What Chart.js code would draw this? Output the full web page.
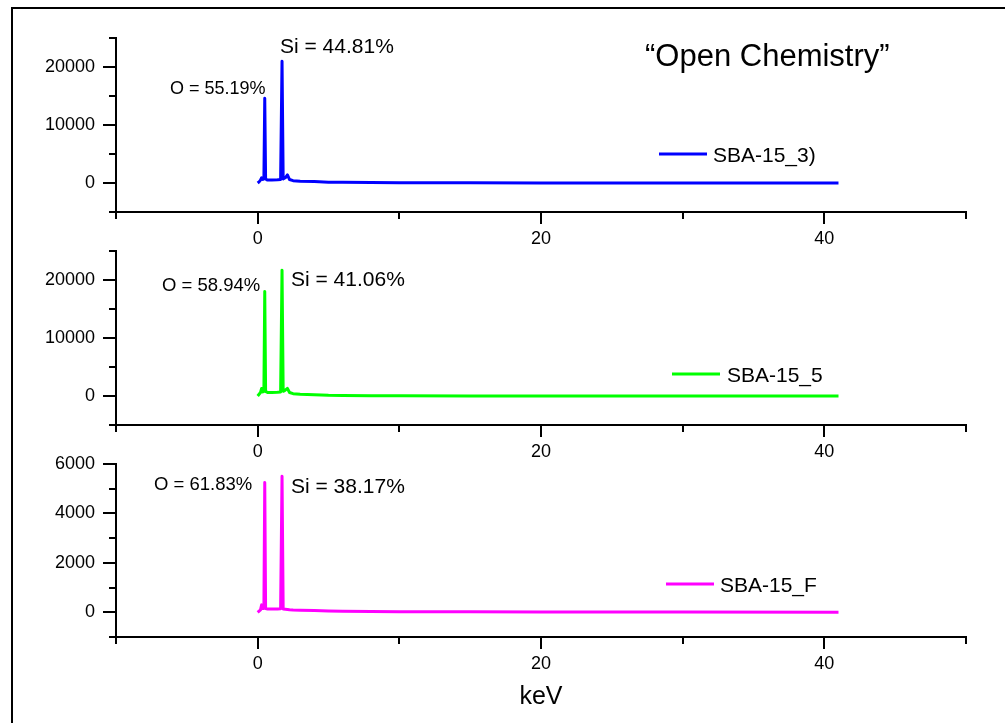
<!DOCTYPE html>
<html>
<head>
<meta charset="utf-8">
<title>EDS spectra SBA-15</title>
<script src="https://cdn.jsdelivr.net/npm/chart.js@4.4.0/dist/chart.umd.min.js"></script>
<style>
  body { margin: 0; background: #fff; }
  #wrap { position: relative; width: 1005px; height: 723px; overflow: hidden; }
  #frame { position: absolute; left: 11px; top: 7px; right: -10px; bottom: -10px;
           border-left: 2px solid #000; border-top: 2px solid #000; }
  canvas { position: absolute; left: 0; top: 0; }
</style>
</head>
<body>
<div id="wrap">
  <div id="frame"></div>
  <canvas id="c1" width="1005" height="723"></canvas>
  <canvas id="c2" width="1005" height="723"></canvas>
  <canvas id="c3" width="1005" height="723"></canvas>
</div>
<script>
// energy axis (keV) and counts
const energy     = [0, 0.1, 0.2, 0.28, 0.36, 0.44, 0.5, 0.56, 0.7, 1.0, 1.4, 1.62, 1.72, 1.8, 1.95, 2.1, 2.25, 2.5, 3.0, 4.0, 5.0, 6.0, 8.0, 10, 15, 20, 30, 41];
const countsSBA3 = [0, 200, 500, 900, 600, 700, 14600, 700, 500, 500, 550, 600, 21000, 700, 900, 1400, 600, 400, 300, 250, 150, 120, 80, 50, 30, 20, 10, 0];
const countsSBA5 = [0, 300, 600, 1300, 700, 800, 18000, 800, 600, 600, 650, 700, 21700, 800, 1000, 1300, 600, 400, 300, 200, 120, 100, 60, 40, 20, 10, 0, 0];
const countsSBAF = [0, 50, 100, 300, 150, 150, 5250, 150, 130, 130, 130, 140, 5500, 130, 120, 110, 100, 90, 80, 70, 50, 40, 30, 20, 20, 10, 10, 0];

const seriesNames = ['SBA-15_3)', 'SBA-15_5', 'SBA-15_F'];
const oLabels  = ['O = 55.19%', 'O = 58.94%', 'O = 61.83%'];
const siLabels = ['Si = 44.81%', 'Si = 41.06%', 'Si = 38.17%'];
const xMajorLabels = [0, 20, 40];
const yMajorTop    = [0, 10000, 20000];
const yMajorBottom = [0, 2000, 4000, 6000];

const FONT = "'Liberation Sans', Arial, sans-serif";

const panels = [
  { id: 'c1', counts: countsSBA3, color: '#0000ff', top: 38, bottom: 212,
    yMin: -5000, yMax: 25000, yStep: 5000, yMajor: yMajorTop,
    legend: { x1: 659, x2: 707, y: 154, tx: 713 },
    texts: [
      { t: oLabels[0], x: 170, y: 88, size: 18 },
      { t: siLabels[0], x: 280, y: 45.5, size: 21 },
      { t: '\u201COpen Chemistry\u201D', x: 645, y: 54.5, size: 31 }
    ] },
  { id: 'c2', counts: countsSBA5, color: '#00ff00', top: 251, bottom: 425,
    yMin: -5000, yMax: 25000, yStep: 5000, yMajor: yMajorTop,
    legend: { x1: 672, x2: 720, y: 374, tx: 727 },
    texts: [
      { t: oLabels[1], x: 162, y: 284, size: 18.5 },
      { t: siLabels[1], x: 291, y: 278.5, size: 21 }
    ] },
  { id: 'c3', counts: countsSBAF, color: '#ff00ff', top: 464, bottom: 637,
    yMin: -1000, yMax: 6000, yStep: 1000, yMajor: yMajorBottom,
    legend: { x1: 666, x2: 714, y: 584, tx: 720 },
    title: 'keV',
    texts: [
      { t: oLabels[2], x: 154, y: 483, size: 18.5 },
      { t: siLabels[2], x: 291, y: 485.5, size: 21 }
    ] }
];

// tick marks drawn outward, long for labelled ticks and short for the rest
const tickMarks = {
  id: 'tickMarks',
  afterDraw(chart, args, opts) {
    const ctx = chart.ctx;
    const xs = chart.scales.x, ys = chart.scales.y;
    ctx.save();
    ctx.strokeStyle = '#000';
    ctx.lineWidth = 2;
    xs.ticks.forEach(t => {
      const px = Math.round(xs.getPixelForValue(t.value));
      const len = xMajorLabels.includes(t.value) ? 12 : 7;
      ctx.beginPath();
      ctx.moveTo(px, xs.top);
      ctx.lineTo(px, xs.top + len);
      ctx.stroke();
    });
    ys.ticks.forEach(t => {
      const py = Math.round(ys.getPixelForValue(t.value));
      const len = opts.yMajor.includes(t.value) ? 13 : 7;
      ctx.beginPath();
      ctx.moveTo(ys.right, py);
      ctx.lineTo(ys.right - len, py);
      ctx.stroke();
    });
    ctx.restore();
  }
};

// legend sample line and free text labels
const notes = {
  id: 'notes',
  afterDraw(chart, args, opts) {
    const ctx = chart.ctx;
    ctx.save();
    ctx.fillStyle = '#000';
    ctx.textBaseline = 'alphabetic';
    ctx.textAlign = 'left';
    opts.texts.forEach(n => {
      ctx.font = n.size + 'px ' + FONT;
      ctx.fillText(n.t, n.x, n.y + n.size * 0.358);
    });
    const lg = opts.legend;
    ctx.strokeStyle = opts.color;
    ctx.lineWidth = 3;
    ctx.beginPath();
    ctx.moveTo(lg.x1, lg.y);
    ctx.lineTo(lg.x2, lg.y);
    ctx.stroke();
    ctx.font = '21px ' + FONT;
    ctx.fillText(opts.name, lg.tx, lg.y + 21 * 0.358);
    ctx.restore();
  }
};

panels.forEach((p, i) => {
  const ctx = document.getElementById(p.id).getContext('2d');
  new Chart(ctx, {
    type: 'line',
    data: {
      datasets: [{
        label: seriesNames[i],
        data: energy.map((e, k) => ({ x: e, y: p.counts[k] })),
        borderColor: p.color,
        borderWidth: 3,
        borderJoinStyle: 'round',
        pointRadius: 0,
        tension: 0,
        fill: false
      }]
    },
    options: {
      responsive: false,
      animation: false,
      devicePixelRatio: 1,
      layout: { padding: { left: 0, right: 39, top: p.top, bottom: 0 } },
      scales: {
        x: {
          type: 'linear',
          min: -10,
          max: 50,
          afterFit: s => { s.height = 723 - p.bottom; },
          grid: { display: false, drawTicks: false },
          border: { display: true, color: '#000', width: 2 },
          ticks: {
            stepSize: 10,
            padding: 16,
            color: '#000',
            font: { family: FONT, size: 18 },
            maxRotation: 0,
            autoSkip: false,
            callback: v => xMajorLabels.includes(v) ? String(v) : ''
          },
          title: {
            display: !!p.title,
            text: p.title || '',
            color: '#000',
            font: { family: FONT, size: 25 },
            padding: { top: 0, bottom: 11 }
          }
        },
        y: {
          min: p.yMin,
          max: p.yMax,
          afterFit: s => { s.width = 116; },
          grid: { display: false, drawTicks: false },
          border: { display: true, color: '#000', width: 2 },
          ticks: {
            stepSize: p.yStep,
            padding: 21,
            color: '#000',
            font: { family: FONT, size: 18 },
            autoSkip: false,
            callback: v => p.yMajor.includes(v) ? String(v) : ''
          }
        }
      },
      plugins: {
        legend: { display: false },
        tooltip: { enabled: false },
        tickMarks: { yMajor: p.yMajor },
        notes: { texts: p.texts, legend: p.legend, color: p.color, name: seriesNames[i] }
      }
    },
    plugins: [tickMarks, notes]
  });
});
</script>
</body>
</html>
